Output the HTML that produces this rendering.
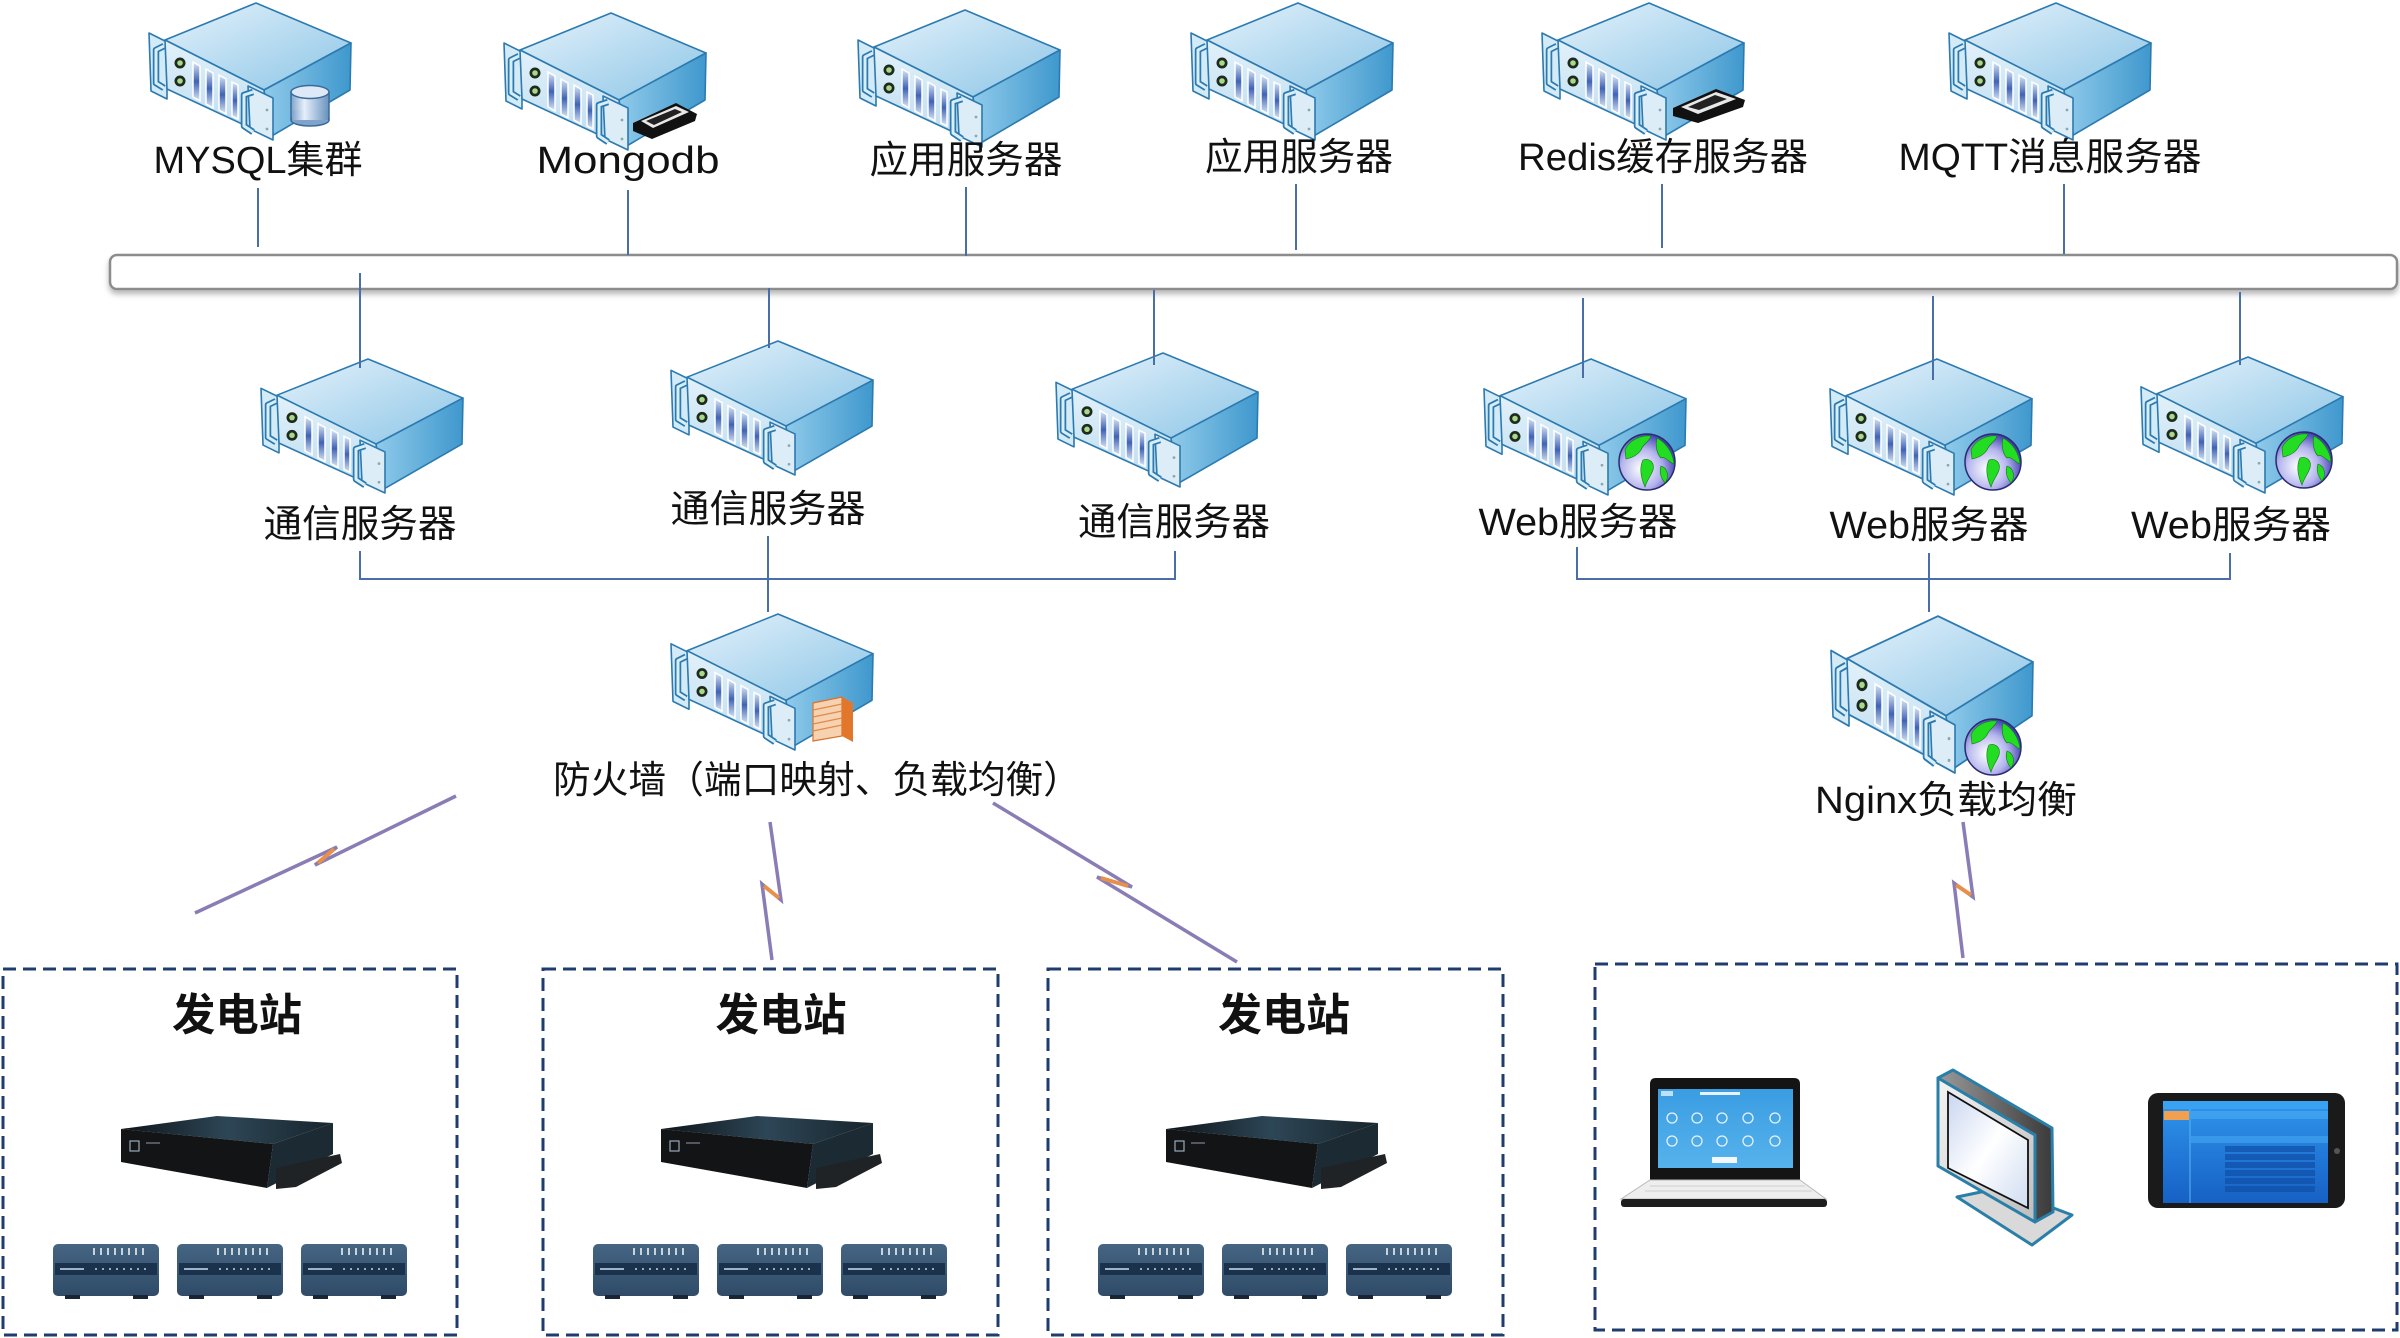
<!DOCTYPE html>
<html><head><meta charset="utf-8"><title>System Architecture</title>
<style>
html,body{margin:0;padding:0;background:#fff;}
svg{display:block;}
.t{font-family:"Liberation Sans","Noto Sans CJK SC",sans-serif;font-size:38px;fill:#111;text-anchor:middle;}
.b{font-family:"Liberation Sans","Noto Sans CJK SC",sans-serif;font-size:44px;font-weight:700;fill:#111;text-anchor:middle;}
.ln{stroke:#4a6fa8;stroke-width:2;fill:none;}
.zz{stroke:#8a7db5;stroke-width:3.5;fill:none;stroke-linejoin:miter;}
.zo{stroke:#e8904a;stroke-width:4;fill:none;}
.box{fill:none;stroke:#1f3c6e;stroke-width:3;stroke-dasharray:13 7;}
</style></head>
<body>
<svg width="2400" height="1338" viewBox="0 0 2400 1338" xmlns="http://www.w3.org/2000/svg">
<defs>
 <linearGradient id="gTop" x1="0" y1="0" x2="1" y2="1">
  <stop offset="0" stop-color="#e4f2fb"/><stop offset="1" stop-color="#8cc5e6"/>
 </linearGradient>
 <linearGradient id="gRight" x1="0" y1="0" x2="1" y2="0">
  <stop offset="0" stop-color="#8fcaea"/><stop offset="1" stop-color="#3f98cd"/>
 </linearGradient>
 <linearGradient id="gFront" x1="0" y1="0" x2="0" y2="1">
  <stop offset="0" stop-color="#e2f1fa"/><stop offset="1" stop-color="#bcdcef"/>
 </linearGradient>
 <linearGradient id="gSlot" x1="0" y1="0" x2="0" y2="1">
  <stop offset="0" stop-color="#dbe8f6"/><stop offset=".5" stop-color="#3f62b5"/><stop offset="1" stop-color="#dbe8f6"/>
 </linearGradient>
 <radialGradient id="gGlobe" cx="40%" cy="62%" r="65%">
  <stop offset="0" stop-color="#ffffff"/><stop offset=".55" stop-color="#b5b5ee"/><stop offset="1" stop-color="#3a3ab0"/>
 </radialGradient>
 <linearGradient id="gCyl" x1="0" y1="0" x2="1" y2="0">
  <stop offset="0" stop-color="#7fa3cb"/><stop offset=".35" stop-color="#e6effa"/><stop offset="1" stop-color="#6a92c0"/>
 </linearGradient>
 <linearGradient id="gDevTop" x1="0" y1="0" x2="1" y2="0">
  <stop offset="0" stop-color="#0e1418"/><stop offset=".5" stop-color="#2d4656"/><stop offset="1" stop-color="#17242c"/>
 </linearGradient>
 <linearGradient id="gMod" x1="0" y1="0" x2="0" y2="1">
  <stop offset="0" stop-color="#456582"/><stop offset="1" stop-color="#2f4b68"/>
 </linearGradient>
 <linearGradient id="gScreen" x1="0" y1="0" x2="0" y2="1">
  <stop offset="0" stop-color="#3a9de2"/><stop offset="1" stop-color="#56b2ec"/>
 </linearGradient>
 <linearGradient id="gTab" x1="0" y1="0" x2="0" y2="1">
  <stop offset="0" stop-color="#2f95ec"/><stop offset="1" stop-color="#1660c4"/>
 </linearGradient>
 <linearGradient id="gBezel" x1="0" y1="0" x2="1" y2="1">
  <stop offset="0" stop-color="#f4f4f4"/><stop offset="1" stop-color="#bdbdbd"/>
 </linearGradient>
 <linearGradient id="gSide" x1="0" y1="0" x2="1" y2="0">
  <stop offset="0" stop-color="#9a9a9a"/><stop offset="1" stop-color="#3a3a3a"/>
 </linearGradient>
 <linearGradient id="gMonScr" x1="0" y1="0" x2="1" y2="1">
  <stop offset="0" stop-color="#c9d6f0"/><stop offset=".5" stop-color="#ffffff"/><stop offset="1" stop-color="#cfdcf2"/>
 </linearGradient>
 <filter id="shadow" x="-5%" y="-50%" width="110%" height="220%">
  <feDropShadow dx="0" dy="4" stdDeviation="3" flood-color="#000" flood-opacity="0.28"/>
 </filter>

 <symbol id="srv" viewBox="0 0 204 138" preserveAspectRatio="none" overflow="visible">
  <polygon points="1,31 19,40 19,97 3,89" fill="#d3eaf7" stroke="#2c7ab0" stroke-width="1.6" stroke-linejoin="round"/>
  <polygon points="17,38 108,1 203,41 116,88" fill="url(#gTop)" stroke="#2c7ab0" stroke-width="1.6" stroke-linejoin="round"/>
  <polygon points="116,88 203,41 202,88 122,135" fill="url(#gRight)" stroke="#2c7ab0" stroke-width="1.6" stroke-linejoin="round"/>
  <polygon points="17,38 116,88 122,135 19,87" fill="url(#gFront)" stroke="#2c7ab0" stroke-width="1.6" stroke-linejoin="round"/>
  <g fill="url(#gSlot)" stroke="#ffffff" stroke-width="1.5">
   <polygon points="45,60 52,64 52,99 45,95"/>
   <polygon points="58,67 65,71 65,106 58,102"/>
   <polygon points="71,73 78,77 78,112 71,108"/>
   <polygon points="84,80 90,83 90,117 84,114"/>
  </g>
  <circle cx="32" cy="61" r="5.5" fill="#1f2a1f"/><circle cx="32" cy="61" r="2.8" fill="#a8d88a"/>
  <circle cx="32" cy="79" r="5.5" fill="#1f2a1f"/><circle cx="32" cy="79" r="2.8" fill="#a8d88a"/>
  <path d="M16,44 L8,48 L8,81 L16,86" fill="none" stroke="#2c7ab0" stroke-width="6.5" stroke-linejoin="round"/>
  <path d="M16,44 L8,48 L8,81 L16,86" fill="none" stroke="#d8eef9" stroke-width="3" stroke-linejoin="round"/>
  <polygon points="100,84 125,96 125,138 102,127" fill="#dcedf7" stroke="#2c7ab0" stroke-width="1.6" stroke-linejoin="round"/>
  <circle cx="119" cy="108" r="1.4" fill="#8aa"/><circle cx="119" cy="127" r="1.4" fill="#8aa"/>
  <path d="M105,90 L96,93 L96,124 L105,130" fill="none" stroke="#2c7ab0" stroke-width="6.5" stroke-linejoin="round"/>
  <path d="M105,90 L96,93 L96,124 L105,130" fill="none" stroke="#d8eef9" stroke-width="3" stroke-linejoin="round"/>
 </symbol>

 <g id="globe">
  <circle r="28" fill="url(#gGlobe)" stroke="#2a2a70" stroke-width="1.5"/>
  <path d="M-22,-12 C-18,-22 -6,-27 4,-26 C2,-20 -4,-18 -6,-12 C-10,-6 -16,-4 -21,-3 Z" fill="#22dd22" stroke="#117711" stroke-width=".6"/>
  <path d="M-4,-2 C2,-4 8,0 6,8 C4,14 0,18 -2,25 C-6,16 -8,6 -4,-2 Z" fill="#22dd22" stroke="#117711" stroke-width=".6"/>
  <path d="M10,-24 C18,-20 26,-10 27,2 C22,0 18,-6 14,-4 C10,-8 8,-16 10,-24 Z" fill="#22dd22" stroke="#117711" stroke-width=".6"/>
  <path d="M14,4 C20,6 23,14 18,21 C14,16 12,10 14,4 Z" fill="#22dd22" stroke="#117711" stroke-width=".6"/>
 </g>

 <g id="mod">
  <rect x="0" y="0" width="106" height="52" rx="5" fill="url(#gMod)"/>
  <rect x="2" y="19" width="102" height="12" fill="#1b324c"/>
  <rect x="7" y="24" width="24" height="2" fill="#9fb4c8"/>
  <g fill="#c8d3de">
   <rect x="40" y="4" width="2" height="7"/><rect x="47" y="4" width="2" height="7"/><rect x="54" y="4" width="2" height="7"/><rect x="61" y="4" width="2" height="7"/>
   <rect x="68" y="4" width="2" height="7"/><rect x="75" y="4" width="2" height="7"/><rect x="82" y="4" width="2" height="7"/><rect x="89" y="4" width="2" height="7"/>
   <circle cx="43" cy="25" r="1"/><circle cx="50" cy="25" r="1"/><circle cx="57" cy="25" r="1"/><circle cx="64" cy="25" r="1"/>
   <circle cx="71" cy="25" r="1"/><circle cx="78" cy="25" r="1"/><circle cx="85" cy="25" r="1"/><circle cx="92" cy="25" r="1"/>
  </g>
  <rect x="12" y="51" width="15" height="4" fill="#1a2533"/>
  <rect x="80" y="51" width="15" height="4" fill="#1a2533"/>
 </g>

 <g id="station">
  <polygon points="121,1129 217,1116 333,1123 273,1144" fill="url(#gDevTop)"/>
  <polygon points="121,1129 273,1144 267,1188 121,1162" fill="#121416"/>
  <polygon points="273,1144 333,1123 333,1154 267,1188" fill="#1c2a33"/>
  <polygon points="276,1168 340,1154 342,1163 296,1187 276,1189" fill="#202325"/>
  <rect x="130" y="1141" width="9" height="10" fill="none" stroke="#9ab" stroke-width="1.2"/>
  <rect x="146" y="1142" width="14" height="2" fill="#556"/>
  <use href="#mod" transform="translate(53,1244)"/>
  <use href="#mod" transform="translate(177,1244)"/>
  <use href="#mod" transform="translate(301,1244)"/>
 </g>
</defs>

<rect width="2400" height="1338" fill="#fff"/>

<!-- Bus -->
<rect x="110" y="255" width="2287" height="34" rx="7" fill="#fff" stroke="#8c8c8c" stroke-width="2.5" filter="url(#shadow)"/>

<!-- Top row servers -->
<use href="#srv" x="148" y="2" width="204" height="138"/>
<use href="#srv" x="503" y="12" width="204" height="138"/>
<use href="#srv" x="857" y="9" width="204" height="138"/>
<use href="#srv" x="1190" y="2" width="204" height="138"/>
<use href="#srv" x="1541" y="2" width="204" height="138"/>
<use href="#srv" x="1948" y="2" width="204" height="138"/>

<!-- DB cylinder -->
<rect x="291" y="92" width="38" height="28" fill="url(#gCyl)" stroke="#3c6a9a" stroke-width="1.5"/>
<ellipse cx="310" cy="120" rx="19" ry="6" fill="#7fa3cb" stroke="#3c6a9a" stroke-width="1.5"/>
<rect x="292" y="110" width="36" height="10" fill="url(#gCyl)"/>
<ellipse cx="310" cy="92" rx="19" ry="6.5" fill="#dde9f6" stroke="#3c6a9a" stroke-width="1.5"/>

<!-- Mongo cassette -->
<polygon points="633,123 676,103 697,114 695,121 652,139 633,131" fill="#111"/>
<polygon points="641,121 676,106 689,112 653,128" fill="#e8e8e8"/>
<polygon points="646,121 675,109 682,112 654,125" fill="#222"/>
<!-- Redis cassette -->
<polygon points="1673,108 1716,89 1745,100 1743,107 1698,123 1673,116" fill="#111"/>
<polygon points="1681,107 1716,92 1736,99 1698,114" fill="#e8e8e8"/>
<polygon points="1688,107 1715,95 1727,99 1699,110" fill="#222"/>

<!-- Middle row servers -->
<use href="#srv" x="260" y="358" width="204" height="135"/>
<use href="#srv" x="670" y="340" width="204" height="135"/>
<use href="#srv" x="1055" y="352" width="204" height="135"/>
<use href="#srv" x="1483" y="358" width="204" height="137"/>
<use href="#srv" x="1829" y="358" width="204" height="137"/>
<use href="#srv" x="2140" y="356" width="204" height="137"/>
<use href="#globe" transform="translate(1647,462)"/>
<use href="#globe" transform="translate(1993,462)"/>
<use href="#globe" transform="translate(2304,460)"/>

<!-- Firewall -->
<use href="#srv" x="670" y="613" width="204" height="137"/>
<polygon points="813,703 842,697 842,736 813,741" fill="#f6d2b0" stroke="#d9722a" stroke-width="1.2"/>
<g stroke="#e08a4a" stroke-width="1.2">
 <line x1="813" y1="710" x2="842" y2="704"/><line x1="813" y1="717" x2="842" y2="711"/>
 <line x1="813" y1="724" x2="842" y2="718"/><line x1="813" y1="731" x2="842" y2="725"/>
</g>
<polygon points="842,697 853,703 853,742 842,736" fill="#e2762a"/>

<!-- Nginx -->
<use href="#srv" x="1830" y="615" width="204" height="158"/>
<use href="#globe" transform="translate(1993,747)"/>

<!-- Connectors -->
<g class="ln">
 <line x1="258" y1="188" x2="258" y2="247"/>
 <line x1="628" y1="190" x2="628" y2="255"/>
 <line x1="966" y1="187" x2="966" y2="256"/>
 <line x1="1296" y1="184" x2="1296" y2="250"/>
 <line x1="1662" y1="184" x2="1662" y2="248"/>
 <line x1="2064" y1="184" x2="2064" y2="254"/>
 <line x1="360" y1="273" x2="360" y2="368"/>
 <line x1="769" y1="288" x2="769" y2="348"/>
 <line x1="1154" y1="290" x2="1154" y2="365"/>
 <line x1="1583" y1="298" x2="1583" y2="378"/>
 <line x1="1933" y1="296" x2="1933" y2="380"/>
 <line x1="2240" y1="292" x2="2240" y2="365"/>
 <polyline points="360,551 360,579 1175,579 1175,551"/>
 <line x1="768" y1="536" x2="768" y2="612"/>
 <polyline points="1577,547 1577,579 2230,579 2230,553"/>
 <line x1="1929" y1="553" x2="1929" y2="612"/>
</g>

<!-- Labels -->
<text class="t" x="258" y="173" textLength="209" lengthAdjust="spacingAndGlyphs">MYSQL集群</text>
<text class="t" x="628" y="173" textLength="183" lengthAdjust="spacingAndGlyphs">Mongodb</text>
<text class="t" x="966" y="173" textLength="193" lengthAdjust="spacingAndGlyphs">应用服务器</text>
<text class="t" x="1299" y="170" textLength="188" lengthAdjust="spacingAndGlyphs">应用服务器</text>
<text class="t" x="1663" y="170" textLength="290" lengthAdjust="spacingAndGlyphs">Redis缓存服务器</text>
<text class="t" x="2050" y="170" textLength="303" lengthAdjust="spacingAndGlyphs">MQTT消息服务器</text>
<text class="t" x="360" y="537" textLength="193" lengthAdjust="spacingAndGlyphs">通信服务器</text>
<text class="t" x="768" y="522" textLength="195" lengthAdjust="spacingAndGlyphs">通信服务器</text>
<text class="t" x="1174" y="535" textLength="192" lengthAdjust="spacingAndGlyphs">通信服务器</text>
<text class="t" x="1578" y="535" textLength="199" lengthAdjust="spacingAndGlyphs">Web服务器</text>
<text class="t" x="1929" y="538" textLength="199" lengthAdjust="spacingAndGlyphs">Web服务器</text>
<text class="t" x="2231" y="538" textLength="200" lengthAdjust="spacingAndGlyphs">Web服务器</text>
<text class="t" x="817" y="793" textLength="528" lengthAdjust="spacingAndGlyphs">防火墙（端口映射、负载均衡）</text>
<text class="t" x="1946" y="813" textLength="262" lengthAdjust="spacingAndGlyphs">Nginx负载均衡</text>

<!-- Wireless links -->
<polyline class="zz" points="195,913 337,847 315,865 456,796"/>
<line class="zo" x1="334" y1="849" x2="318" y2="863"/>
<polyline class="zz" points="770,822 781,900 762,884 772,960"/>
<line class="zo" x1="779" y1="898" x2="764" y2="886"/>
<polyline class="zz" points="993,803 1132,887 1097,877 1237,962"/>
<line class="zo" x1="1128" y1="886" x2="1101" y2="878"/>
<polyline class="zz" points="1963,822 1973,897 1954,883 1963,958"/>
<line class="zo" x1="1971" y1="895" x2="1956" y2="885"/>

<!-- Stations -->
<rect class="box" x="3" y="969" width="454" height="366"/>
<rect class="box" x="543" y="969" width="455" height="366"/>
<rect class="box" x="1048" y="969" width="455" height="366"/>
<text class="b" x="237" y="1030" textLength="130" lengthAdjust="spacingAndGlyphs">发电站</text>
<text class="b" x="781" y="1030" textLength="131" lengthAdjust="spacingAndGlyphs">发电站</text>
<text class="b" x="1284" y="1030" textLength="132" lengthAdjust="spacingAndGlyphs">发电站</text>
<use href="#station"/>
<use href="#station" transform="translate(540,0)"/>
<use href="#station" transform="translate(1045,0)"/>

<!-- Client box -->
<rect class="box" x="1595" y="964" width="802" height="366"/>

<!-- Laptop -->
<path d="M1650,1181 L1650,1084 Q1650,1078 1656,1078 L1794,1078 Q1800,1078 1800,1084 L1800,1181 Z" fill="#141414"/>
<rect x="1658" y="1089" width="135" height="79" fill="url(#gScreen)"/>
<rect x="1661" y="1091" width="12" height="5" fill="#bfe0f7"/>
<rect x="1700" y="1092" width="40" height="3" fill="#e6f3fc"/>
<g fill="none" stroke="#e6f3fc" stroke-width="1.3">
 <circle cx="1672" cy="1118" r="5"/><circle cx="1697" cy="1118" r="5"/><circle cx="1722" cy="1118" r="5"/><circle cx="1748" cy="1118" r="5"/><circle cx="1775" cy="1118" r="5"/>
 <circle cx="1672" cy="1141" r="5"/><circle cx="1697" cy="1141" r="5"/><circle cx="1722" cy="1141" r="5"/><circle cx="1748" cy="1141" r="5"/><circle cx="1775" cy="1141" r="5"/>
</g>
<rect x="1712" y="1157" width="25" height="6" fill="#f2f8fd"/>
<polygon points="1650,1180 1800,1180 1826,1199 1621,1199" fill="#eeeeee" stroke="#b8b8b8" stroke-width="1"/>
<g stroke="#cfcfcf" stroke-width="1"><line x1="1650" y1="1186" x2="1805" y2="1186"/><line x1="1645" y1="1191" x2="1812" y2="1191"/></g>
<rect x="1621" y="1199" width="206" height="8" rx="3" fill="#1e1e1e"/>

<!-- Monitor -->
<polygon points="1957,1197 2000,1188 2072,1215 2032,1245" fill="#d9d9d9" stroke="#2a7fa8" stroke-width="3" stroke-linejoin="round"/>
<polygon points="1938,1078 1953,1070 2052,1128 2053,1212 2035,1222 2035,1135" fill="url(#gSide)" stroke="#2a7fa8" stroke-width="3" stroke-linejoin="round"/>
<polygon points="1938,1078 2035,1135 2035,1222 1938,1166" fill="url(#gBezel)" stroke="#2a7fa8" stroke-width="3" stroke-linejoin="round"/>
<polygon points="1948,1092 2028,1140 2028,1208 1948,1168" fill="url(#gMonScr)" stroke="#111" stroke-width="1.8"/>

<!-- Tablet -->
<rect x="2148" y="1093" width="197" height="115" rx="10" fill="#1a1a1a"/>
<rect x="2163" y="1101" width="165" height="102" fill="url(#gTab)"/>
<rect x="2163" y="1101" width="165" height="8" fill="#3aa2f2"/>
<rect x="2164" y="1111" width="25" height="9" fill="#f0a050"/>
<rect x="2191" y="1111" width="137" height="8" fill="#4aaef5" opacity=".6"/>
<rect x="2191" y="1136" width="137" height="7" fill="#4aaef5" opacity=".5"/>
<g fill="#0f4fa8" opacity=".7">
 <rect x="2225" y="1146" width="90" height="6"/><rect x="2225" y="1154" width="90" height="6"/>
 <rect x="2225" y="1162" width="90" height="6"/><rect x="2225" y="1170" width="90" height="6"/>
 <rect x="2225" y="1178" width="90" height="6"/><rect x="2225" y="1186" width="90" height="6"/>
</g>
<line x1="2190" y1="1109" x2="2190" y2="1203" stroke="#5ab6f5" stroke-width="1"/>
<circle cx="2337" cy="1151" r="3" fill="#555"/>
</svg>
</body></html>
